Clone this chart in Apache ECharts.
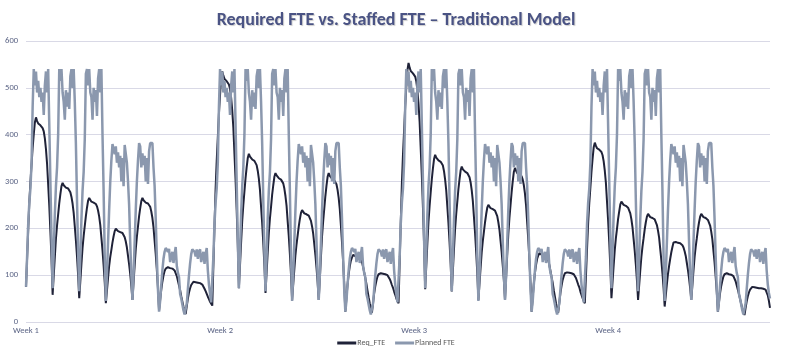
<!DOCTYPE html>
<html>
<head>
<meta charset="utf-8">
<script src="https://cdn.jsdelivr.net/npm/echarts@6/dist/echarts.min.js"></script>
<style>
html,body{margin:0;padding:0;background:#fff;}
#chart{width:792px;height:363px;}
</style>
</head>
<body>
<div id="chart"></div>
<script>
// ---- Data (hourly values, 24 points per day, 7 days per week) ----
const weekLabels = ['Week 1', 'Week 2', 'Week 3', 'Week 4'];
const labelEvery = 175;
const seriesNames = ['Req_FTE', 'Planned FTE'];

const reqWeek1 = [
  75,137,198,256,299,336,372,401,426,437,429,424,422,420,418,414,407,392,369,338,293,248,194,134,
  58,99,139,178,206,230,254,273,290,297,292,288,287,286,285,282,277,267,253,233,204,174,140,100,
  51,87,124,158,184,205,226,244,259,265,261,257,256,255,254,252,247,238,225,207,180,153,121,85,
  40,67,94,120,139,154,170,183,194,199,196,194,193,192,191,190,187,181,172,159,141,123,102,77,
  47,84,121,156,182,204,226,243,258,265,260,257,255,254,253,251,246,236,222,202,173,145,111,72,
  24,48,69,86,99,109,114,118,117,116,115,115,114,112,110,106,98,88,78,68,55,44,33,24,
  17,34,50,63,72,79,83,86,85,85,84,84,84,83,82,80,76,71,66,60,54,49,43,39
];
const reqWeek2 = [
  35,120,205,285,345,395,445,485,520,535,526,519,516,514,512,507,498,479,452,415,359,304,239,165,
  72,121,170,216,250,279,307,330,350,359,353,349,347,346,344,341,335,323,306,282,246,211,169,121,
  62,106,149,190,221,246,272,292,310,318,313,309,307,306,304,302,296,285,269,248,215,183,145,101,
  47,80,112,143,166,185,204,220,233,239,235,232,231,230,229,227,224,216,204,189,166,143,116,85,
  47,93,139,183,215,242,269,291,310,318,312,308,306,305,303,300,294,282,265,241,206,170,129,81,
  22,52,80,102,119,131,138,143,142,141,139,139,138,136,133,128,118,106,94,82,67,53,40,29,
  20,41,61,76,88,97,102,105,104,104,103,103,102,101,100,97,92,86,79,73,65,58,50,45
];
const reqWeek3 = [
  40,127,214,296,358,409,461,502,538,553,543,536,534,531,529,524,514,495,466,427,369,312,244,167,
  70,119,168,214,248,277,305,328,348,357,351,347,345,344,342,339,334,322,304,281,246,211,170,123,
  65,110,156,199,231,257,284,305,324,332,326,322,321,319,318,315,309,298,281,258,224,190,150,104,
  47,82,116,149,173,193,213,230,244,250,246,243,242,241,240,238,234,226,213,197,173,149,120,88,
  47,95,143,188,222,250,278,301,321,329,323,318,317,315,314,311,304,292,274,249,212,176,133,83,
  22,53,82,105,122,135,142,147,146,144,143,143,142,139,137,132,122,109,96,84,68,54,40,29,
  20,42,62,77,90,98,104,107,106,106,105,105,104,103,102,99,94,87,80,74,65,58,51,45
];
const reqWeek4 = [
  40,98,157,212,253,287,321,349,373,383,376,371,370,368,366,363,356,343,323,297,257,217,171,117,
  51,86,121,154,179,199,220,236,251,257,253,250,249,248,247,244,240,232,219,202,177,152,123,89,
  47,78,110,139,161,179,198,213,225,231,227,224,223,222,221,219,215,207,195,180,156,132,104,73,
  33,57,81,103,120,135,149,160,170,174,171,170,169,168,168,166,164,159,151,141,126,111,93,72,
  47,78,110,139,161,179,198,213,225,231,227,224,223,222,221,218,214,206,193,177,152,127,97,64,
  22,43,62,77,88,97,102,105,104,103,102,102,101,100,98,94,87,78,69,60,49,39,29,21,
  15,30,44,55,63,69,73,75,75,74,74,73,73,72,72,72,72,71,71,69,65,57,45,30
];

const plannedWeek1 = [
  75,140,210,255,285,340,460,540,505,535,490,515,480,500,470,490,442,505,535,490,540,420,300,180,
  72,150,230,290,330,400,540,515,540,490,470,432,495,460,490,455,525,540,500,540,470,380,260,150,
  66,140,220,280,320,390,530,540,505,540,490,480,432,500,470,495,440,520,540,490,540,400,280,140,
  45,100,170,240,300,345,380,382,358,375,340,362,330,355,300,350,290,378,382,340,300,250,170,100,
  47,100,170,240,300,345,382,375,330,360,335,355,300,350,295,365,382,380,382,330,290,220,140,70,
  22,45,80,110,135,150,158,160,150,156,128,140,150,126,145,160,120,105,96,60,50,48,25,16,
  18,40,70,100,125,145,155,158,150,140,155,135,150,155,128,140,150,124,145,158,110,80,60,42
];
const plannedWeek2 = [
  38,140,210,255,285,340,460,540,505,535,490,515,480,500,470,490,442,505,535,490,540,420,300,180,
  72,150,230,290,330,400,540,515,540,490,470,432,495,460,490,455,525,540,500,540,470,380,260,150,
  66,140,220,280,320,390,530,540,505,540,490,480,432,500,470,495,440,520,540,490,540,400,280,140,
  45,100,170,240,300,345,380,382,358,375,340,362,330,355,300,350,290,378,382,340,300,250,170,100,
  47,100,170,240,300,345,382,375,330,360,335,355,300,350,295,365,382,380,382,330,290,220,140,70,
  22,45,80,110,135,150,158,160,150,156,128,140,150,126,145,160,120,105,96,60,50,48,25,16,
  18,40,70,100,125,145,155,158,150,140,155,135,150,155,128,140,150,124,145,158,110,80,60,42
];
const plannedWeek3 = [
  38,140,210,255,285,340,460,540,505,535,490,515,480,500,470,490,442,505,535,490,540,420,300,180,
  72,150,230,290,330,400,540,515,540,490,470,432,495,460,490,455,525,540,500,540,470,380,260,150,
  66,140,220,280,320,390,530,540,505,540,490,480,432,500,470,495,440,520,540,490,540,400,280,140,
  45,100,170,240,300,345,380,382,358,375,340,362,330,355,300,350,290,378,382,340,300,250,170,100,
  47,100,170,240,300,345,382,375,330,360,335,355,300,350,295,365,382,380,382,330,290,220,140,70,
  22,45,80,110,135,150,158,160,150,156,128,140,150,126,145,160,120,105,96,60,50,48,25,16,
  18,40,70,100,125,145,155,158,150,140,155,135,150,155,128,140,150,124,145,158,110,80,60,42
];
const plannedWeek4 = [
  38,140,210,255,285,340,460,540,505,535,490,515,480,500,470,490,442,505,535,490,540,420,300,180,
  72,150,230,290,330,400,540,515,540,490,470,432,495,460,490,455,525,540,500,540,470,380,260,150,
  66,140,220,280,320,390,530,540,505,540,490,480,432,500,470,495,440,520,540,490,540,400,280,140,
  45,100,170,240,300,345,380,382,358,375,340,362,330,355,300,350,290,378,382,340,300,250,170,100,
  47,100,170,240,300,345,382,375,330,360,335,355,300,350,295,365,382,380,382,330,290,220,140,70,
  22,45,80,110,135,150,158,160,150,156,128,140,150,126,145,160,120,105,96,60,50,48,25,16,
  18,40,70,100,125,145,155,158,150,140,155,135,150,155,128,140,150,124,145,158,110,80,62,50
];

// ---- Build ----
const reqFTE = [].concat(reqWeek1, reqWeek2, reqWeek3, reqWeek4);
const plannedFTE = [].concat(plannedWeek1, plannedWeek2, plannedWeek3, plannedWeek4);
const categories = reqFTE.map((_, i) => String(i));

const FONT = "Carlito, 'Liberation Sans Narrow', 'Liberation Sans', sans-serif";

const chart = echarts.init(document.getElementById('chart'), null, {renderer: 'canvas'});
chart.setOption({
  animation: false,
  backgroundColor: '#ffffff',
  title: {
    text: 'Required FTE vs. Staffed FTE \u2013 Traditional Model',
    left: 'center',
    top: 6,
    textStyle: {
      fontFamily: FONT,
      fontSize: 18,
      fontWeight: 'bold',
      color: '#4a5384',
      textShadowColor: 'rgba(0,0,0,0.2)',
      textShadowBlur: 1,
      textShadowOffsetX: 1,
      textShadowOffsetY: 1
    }
  },
  legend: {
    data: [
      {name: seriesNames[0], icon: 'rect', itemStyle: {color: '#1f2238'}},
      {name: seriesNames[1], icon: 'rect', itemStyle: {color: '#8b98ae'}}
    ],
    bottom: 11,
    left: 'center',
    itemWidth: 19,
    itemHeight: 3,
    itemGap: 10,
    textStyle: {fontFamily: FONT, fontSize: 8, color: '#595959', padding: [0, 0, 0, -4]}
  },
  grid: {left: 26, right: 22, top: 41, bottom: 41, containLabel: false},
  xAxis: {
    type: 'category',
    data: categories,
    boundaryGap: false,
    axisLine: {show: false},
    axisTick: {show: false},
    splitLine: {show: false},
    axisLabel: {
      interval: labelEvery - 1,
      margin: 4,
      fontFamily: FONT,
      fontSize: 8.5,
      color: '#5b6485',
      formatter: function (value) {
        return weekLabels[Math.round(Number(value) / labelEvery)] || '';
      }
    }
  },
  yAxis: {
    type: 'value',
    min: 0,
    max: 600,
    interval: 100,
    axisLine: {show: false},
    axisTick: {show: false},
    splitLine: {lineStyle: {color: '#d9d9e6', width: 1}},
    axisLabel: {margin: 8, fontFamily: FONT, fontSize: 8.5, color: '#5b6485'}
  },
  series: [
    {
      name: seriesNames[0],
      type: 'line',
      data: reqFTE,
      symbol: 'none',
      showSymbol: false,
      lineStyle: {color: '#1f2238', width: 2},
      itemStyle: {color: '#1f2238'},
      z: 2
    },
    {
      name: seriesNames[1],
      type: 'line',
      data: plannedFTE,
      symbol: 'none',
      showSymbol: false,
      lineStyle: {color: '#8b98ae', width: 2.5},
      itemStyle: {color: '#8b98ae'},
      z: 3
    }
  ]
});
</script>
</body>
</html>
